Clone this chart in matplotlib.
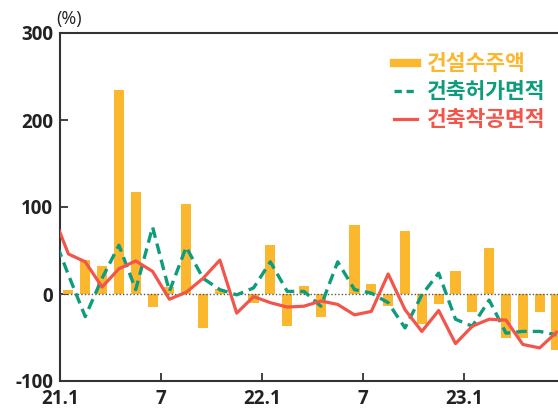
"""
건설수주액 / 건축허가면적 / 건축착공면적 증감률 차트
"""

import matplotlib
matplotlib.use('Agg')
import matplotlib.pyplot as plt
from matplotlib.lines import Line2D

plt.rcParams['font.family'] = ['Noto Sans CJK KR', 'DejaVu Sans']

# 월 (선 그래프는 20.12부터, 막대는 21.1부터)
months = ['20.12',
          '21.1', '21.2', '21.3', '21.4', '21.5', '21.6',
          '21.7', '21.8', '21.9', '21.10', '21.11', '21.12',
          '22.1', '22.2', '22.3', '22.4', '22.5', '22.6',
          '22.7', '22.8', '22.9', '22.10', '22.11', '22.12',
          '23.1', '23.2', '23.3', '23.4', '23.5', '23.6']

# 건설수주액 (21.1 ~ 23.6)
orders = [5, 39, 32, 235, 117, -15,
          8, 104, -39, 6, 0, -10,
          56, -37, 9, -26, 0, 79,
          11, -14, 72, -35, -11, 27,
          -21, 53, -50, -50, -21, -64]

# 건축허가면적 (20.12 ~ 23.6)
permits = [72,
           22, -26, 18, 56, 5, 77,
           3, 54, 18, 5, -1, 7,
           37, 3, 3, -14, 37, 5,
           1, -10, -39, -1, 24, -29,
           -37, -7, -45, -43, -43, -47]

# 건축착공면적 (20.12 ~ 23.6)
starts = [95,
          46, 37, 8, 29, 38, 26,
          -6, 2, 18, 39, -22, -3,
          -10, -15, -14, -8, -12, -24,
          -20, 23, -18, -43, -19, -57,
          -37, -29, -30, -58, -62, -44]

tick_pos = [-0.5, 5.5, 11.5, 17.5, 23.5]
tick_labels = ['21.1', '7', '22.1', '7', '23.1']

c_bar = '#FBB72E'
c_permit = '#0E9C7C'
c_start = '#F2554A'
c_axis = '#333333'
num_font = ['Open Sans', 'DejaVu Sans']

fig = plt.figure(figsize=(5.58, 4.09), dpi=100)
ax = fig.add_axes([60 / 558, 28 / 409, 1 - 60 / 558, 348 / 409])

x_bar = list(range(len(orders)))
x_line = list(range(-1, len(permits) - 1))

ax.bar(x_bar, orders, width=0.6, color=c_bar, zorder=2)
ax.axhline(0, color='#555555', lw=1, ls=(0, (1, 1.5)), zorder=3)
ax.plot(x_line, permits, color=c_permit, lw=2.4, ls=(0, (3.2, 1.8)), zorder=4)
ax.plot(x_line, starts, color=c_start, lw=2.3, zorder=5)

ax.set_xlim(-0.5, -0.5 + 498 / 16.83)
ax.set_ylim(-100, 300)
ax.set_yticks([-100, 0, 100, 200, 300])
ax.set_yticklabels(['-100', '0', '100', '200', '300'])
ax.set_xticks(tick_pos)
ax.set_xticklabels(tick_labels)

for s in ['left', 'bottom', 'top']:
    ax.spines[s].set_color(c_axis)
    ax.spines[s].set_linewidth(1.5)
ax.spines['right'].set_visible(False)
ax.tick_params(direction='in', length=6, width=1.3, color=c_axis,
               labelcolor='#222222')
ax.tick_params(axis='y', pad=5)
ax.tick_params(axis='x', pad=6)
for lab in ax.get_xticklabels() + ax.get_yticklabels():
    lab.set_fontweight('bold')
    lab.set_family(num_font)
    lab.set_fontsize(13.5)

fig.text(56 / 558, 1 - 19 / 409, '(%)', fontsize=13, color='#222222',
         va='center', ha='left', family=num_font)

handles = [Line2D([], [], color=c_bar, lw=6),
           Line2D([], [], color=c_permit, lw=2.4, ls=(0, (2.2, 1.4))),
           Line2D([], [], color=c_start, lw=2.3)]
labels = ['건설수주액', '건축허가면적', '건축착공면적']
ax.legend(handles, labels, loc='upper left', bbox_to_anchor=(375 / 558, 1 - 34 / 409),
          bbox_transform=fig.transFigure, frameon=False,
          handlelength=1.05, handletextpad=0.45, labelspacing=0.32,
          labelcolor=[c_bar, c_permit, c_start], prop={'weight': 'bold', 'size': 15.5})

plt.savefig('out.png', dpi=100)
